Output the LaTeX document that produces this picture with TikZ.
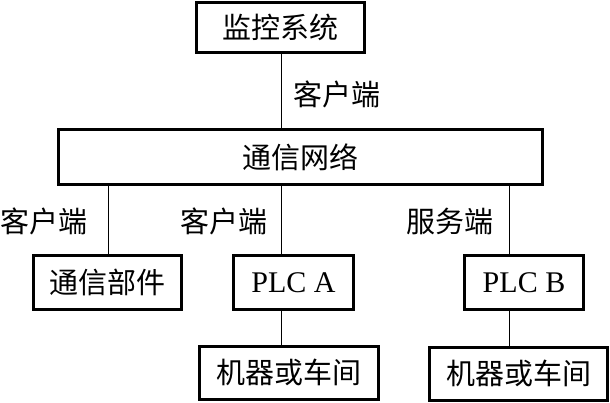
\documentclass[tikz,border=0pt]{standalone}
\usepackage{fontspec}
\setmainfont{Liberation Serif}
\newfontfamily\cjk{Noto Sans CJK SC}
\begin{document}
\begin{tikzpicture}[x=1pt,y=-1pt,
  box/.style={draw,line width=3pt,inner sep=0pt,font=\cjk\fontsize{29}{31}\selectfont},
  plc/.style={box,font=\fontsize{30}{32}\selectfont},
  lbl/.style={inner sep=0pt,font=\cjk\fontsize{29}{31}\selectfont},
  conn/.style={line width=1pt}]
\useasboundingbox (0,0) rectangle (610,403);
\node[box,minimum width=168pt,minimum height=50pt] (top) at (280.5,27.5) {监控系统};
\node[box,minimum width=484pt,minimum height=55pt] (net) at (300.5,157) {通信网络};
\node[box,minimum width=148pt,minimum height=54pt] (tx) at (107.5,282.5) {通信部件};
\node[plc,minimum width=120pt,minimum height=54pt] (pa) at (293.5,282.5) {PLC A};
\node[plc,minimum width=119pt,minimum height=54pt] (pb) at (524,282.5) {PLC B};
\node[box,minimum width=179pt,minimum height=53pt] (m1) at (289,372.5) {机器或车间};
\node[box,minimum width=178pt,minimum height=53pt] (m2) at (518.5,373.5) {机器或车间};
\coordinate (ax) at (281,0);
\coordinate (bx) at (509,0);
\coordinate (cx) at (108,0);
\node[lbl] (l0) at (336.5,94) {客户端};
\node[lbl] (l1) at (44,221) {客户端};
\node[lbl] (l2) at (224,221) {客户端};
\node[lbl] (l3) at (450,221) {服务端};
\draw[conn] (top.south -| ax) -- (net.north -| ax);
\draw[conn] (net.south -| cx) -- (tx.north -| cx);
\draw[conn] (net.south -| ax) -- (pa.north -| ax);
\draw[conn] (net.south -| bx) -- (pb.north -| bx);
\draw[conn] (pa.south -| ax) -- (m1.north -| ax);
\draw[conn] (pb.south -| bx) -- (m2.north -| bx);
\end{tikzpicture}
\end{document}
